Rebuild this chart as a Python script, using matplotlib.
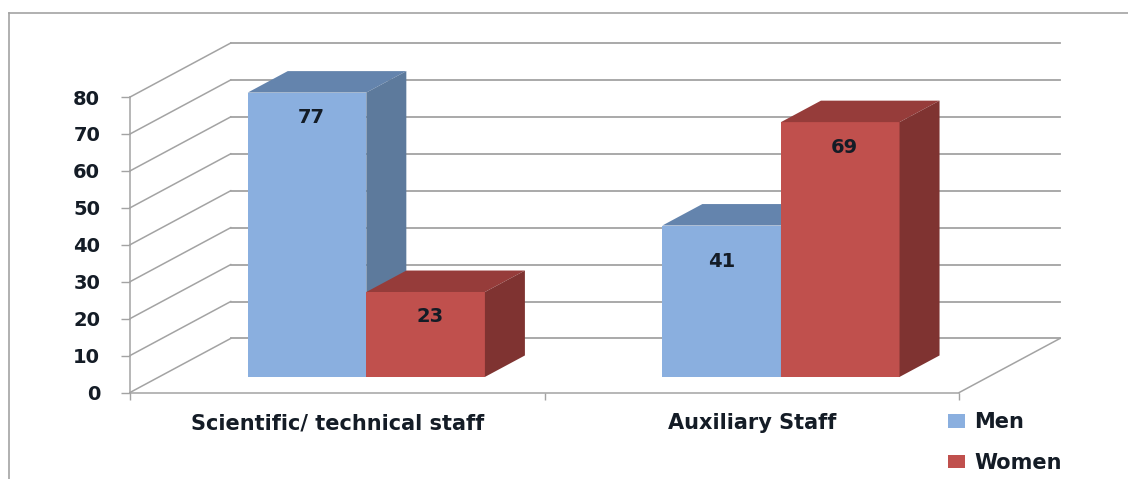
import matplotlib
matplotlib.use('Agg')
import matplotlib.pyplot as plt
from matplotlib.lines import Line2D
from matplotlib.patches import Polygon

plt.rcParams['font.family'] = ['DejaVu Sans']

categories = ['Scientific/ technical staff', 'Auxiliary Staff']
men = [77, 41]
women = [23, 69]
y_ticks = [0, 10, 20, 30, 40, 50, 60, 70, 80]

W, H = 1128, 479
GRID = '#a3a3a3'
TEXT = '#141c26'

# the "3d" look: how far the back wall sits from the front plane, in data units
wall_dx = 0.243
wall_dy = 14.64
bar_w = 0.286
gap = 0.214
floor_off = 0.288
bar_depth = 0.397

fig = plt.figure(figsize=(W / 100, H / 100), dpi=100, facecolor='white')
ax = fig.add_axes([130 / W, 1 - 392.5 / H, 930 / W, 349.5 / H])
ax.set_xlim(0, 2 + wall_dx)
ax.set_ylim(0, 80 + wall_dy)
ax.patch.set_alpha(0)

# outer frame, runs off the right and bottom of the picture
fig.add_artist(Line2D([9 / W, 1], [1 - 13 / H, 1 - 13 / H], color=GRID, lw=1.2))
fig.add_artist(Line2D([9 / W, 9 / W], [0, 1 - 13 / H], color=GRID, lw=1.2))

# walls
for v in y_ticks:
    ax.plot([0, wall_dx], [v, v + wall_dy], color=GRID, lw=1.1, zorder=1, clip_on=False)
    ax.plot([wall_dx, 2 + wall_dx], [v + wall_dy, v + wall_dy], color=GRID, lw=1.3, zorder=1, clip_on=False)
ax.plot([2, 2 + wall_dx], [0, wall_dy], color=GRID, lw=1.1, zorder=1, clip_on=False)


def draw_bar(x0, value, front, top, side, label=None, off=(3, -18)):
    dx = wall_dx * floor_off
    base = wall_dy * floor_off
    x = x0 + dx
    ddx = wall_dx * bar_depth
    ddy = wall_dy * bar_depth
    ax.bar(x, value, bar_w, bottom=base, align='edge', color=front, label=label, zorder=2)
    y = base + value
    ax.add_patch(Polygon([(x, y), (x + bar_w, y), (x + bar_w + ddx, y + ddy), (x + ddx, y + ddy)],
                         closed=True, facecolor=top, edgecolor='none', zorder=2))
    ax.add_patch(Polygon([(x + bar_w, base), (x + bar_w + ddx, base + ddy), (x + bar_w + ddx, y + ddy), (x + bar_w, y)],
                         closed=True, facecolor=side, edgecolor='none', zorder=2))
    ax.annotate(str(value), (x + bar_w / 2, y), xytext=off, textcoords='offset points',
                ha='center', va='center', fontsize=14, fontweight='bold', color=TEXT, zorder=3)


men_color = '#8aafdf'
women_color = '#c0504d'
men_off = [(3, -18), (0, -26)]
for i in range(len(categories)):
    draw_bar(i + gap, men[i], men_color, '#6484ad', '#5d7a9c', 'Men' if i == 0 else None, men_off[i])
    draw_bar(i + gap + bar_w, women[i], women_color, '#963c3a', '#7f3331', 'Women' if i == 0 else None)

for s in ['top', 'right']:
    ax.spines[s].set_visible(False)
ax.spines['left'].set_bounds(0, 80)
ax.spines['bottom'].set_bounds(0, 2)
ax.spines['left'].set_color(GRID)
ax.spines['bottom'].set_color(GRID)
ax.spines['left'].set_linewidth(1.1)
ax.spines['bottom'].set_linewidth(1.1)

ax.set_yticks(y_ticks)
ax.tick_params(axis='y', length=6.5, width=1.0, color=GRID, pad=15,
               labelsize=14, labelcolor=TEXT)
ax.set_xticks([0, 1, 2])
ax.set_xticklabels([])
ax.set_xticks([0.5, 1.5], minor=True)
ax.set_xticklabels(categories, minor=True)
ax.tick_params(axis='x', which='major', length=5, width=1.0, color=GRID)
ax.tick_params(axis='x', which='minor', length=0, pad=15, labelsize=15, labelcolor=TEXT)
for t in ax.get_yticklabels() + ax.get_xticklabels(minor=True):
    t.set_fontweight('bold')

ax.legend(loc='upper left', bbox_to_anchor=(948 / W, 1 - 412 / H), bbox_transform=fig.transFigure,
          frameon=False, ncol=1, handlelength=0.8, handleheight=0.65, handletextpad=0.45,
          labelspacing=1.0, borderpad=0, borderaxespad=0,
          prop={'weight': 'bold', 'size': 15}, labelcolor=TEXT)

fig.savefig('out.png', dpi=100)
